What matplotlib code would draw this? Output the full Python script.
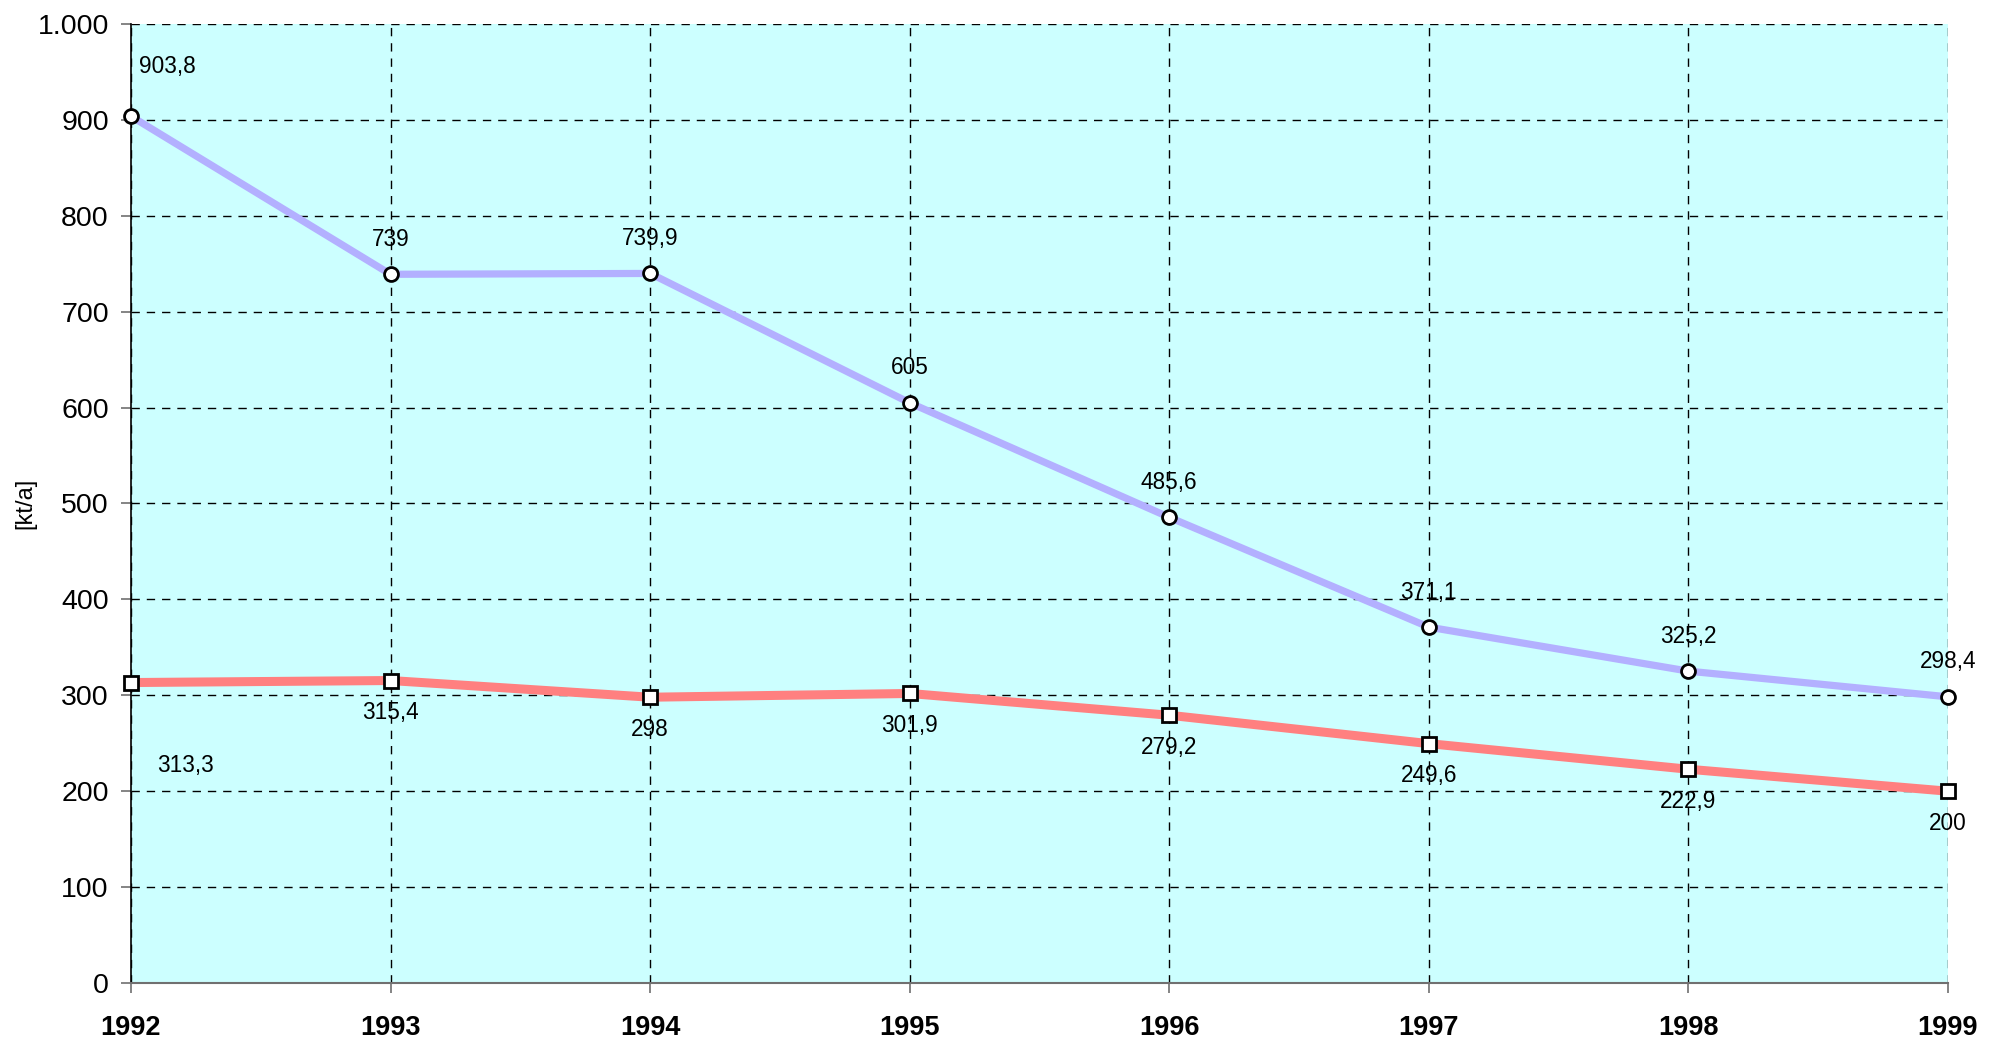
import matplotlib
matplotlib.use("Agg")
import matplotlib.pyplot as plt
from matplotlib.ticker import FuncFormatter, MultipleLocator

years = [1992, 1993, 1994, 1995, 1996, 1997, 1998, 1999]
upper = [903.8, 739, 739.9, 605, 485.6, 371.1, 325.2, 298.4]
lower = [313.3, 315.4, 298, 301.9, 279.2, 249.6, 222.9, 200]
upper_txt = ["903,8", "739", "739,9", "605", "485,6", "371,1", "325,2", "298,4"]
lower_txt = ["313,3", "315,4", "298", "301,9", "279,2", "249,6", "222,9", "200"]

plt.rcParams.update({"font.family": ["Liberation Sans", "DejaVu Sans"]})

fig = plt.figure(figsize=(19.99, 10.42), dpi=100)
ax = fig.add_axes([131 / 1999, 1 - 983 / 1042, (1948 - 131) / 1999, (983 - 24) / 1042])
ax.set_facecolor("#CCFFFF")

ax.plot(years, upper, color="#B3B0FF", lw=5.2, zorder=3, solid_capstyle="butt")
ax.plot(years, lower, color="#FF8080", lw=6.5, zorder=3, solid_capstyle="butt")
ax.plot(years, upper, ls="none", marker="o", ms=10, mfc="white", mec="black", mew=2, zorder=4, clip_on=False)
ax.plot(years, lower, ls="none", marker="s", ms=10, mfc="white", mec="black", mew=2, zorder=4, clip_on=False)

# value labels: purple above the points, red below (first ones sit apart)
for i, (x, y, t) in enumerate(zip(years, upper, upper_txt)):
    off = (36, 50) if i == 0 else (0, 35)
    ax.annotate(t, (x, y), xytext=off, textcoords="offset pixels",
                ha="center", va="center", fontsize=16.3, zorder=5)
for i, (x, y, t) in enumerate(zip(years, lower, lower_txt)):
    off = (54, -83) if i == 0 else (0, -32)
    ax.annotate(t, (x, y), xytext=off, textcoords="offset pixels",
                ha="center", va="center", fontsize=16.3, zorder=5)

ax.set_xlim(1992, 1999)
ax.set_ylim(0, 1000)
ax.set_xticks(years)
ax.yaxis.set_major_locator(MultipleLocator(100))
ax.yaxis.set_major_formatter(FuncFormatter(lambda v, p: f"{int(v):,}".replace(",", ".")))
ax.grid(True, color="black", lw=1, ls=(0, (6, 5)), zorder=1)

for s in ("top", "right"):
    ax.spines[s].set_visible(False)
ax.spines["left"].set_color("black")
ax.spines["left"].set_linewidth(1.2)
ax.spines["bottom"].set_color("#707070")
ax.spines["bottom"].set_linewidth(1.5)
ax.spines["left"].set_zorder(2)
ax.spines["bottom"].set_zorder(2)

ax.tick_params(axis="y", direction="out", length=7, width=1.2, color="#707070",
               labelsize=20.5, pad=9)
ax.tick_params(axis="x", direction="out", length=7, width=1.2, color="#707070",
               labelsize=19.5, pad=16)
for lab in ax.get_xticklabels():
    lab.set_fontweight("bold")

ax.set_ylabel("[kt/a]", fontsize=17)
ax.yaxis.set_label_coords(-0.052, 0.5)

fig.savefig("out.png", dpi=100)
